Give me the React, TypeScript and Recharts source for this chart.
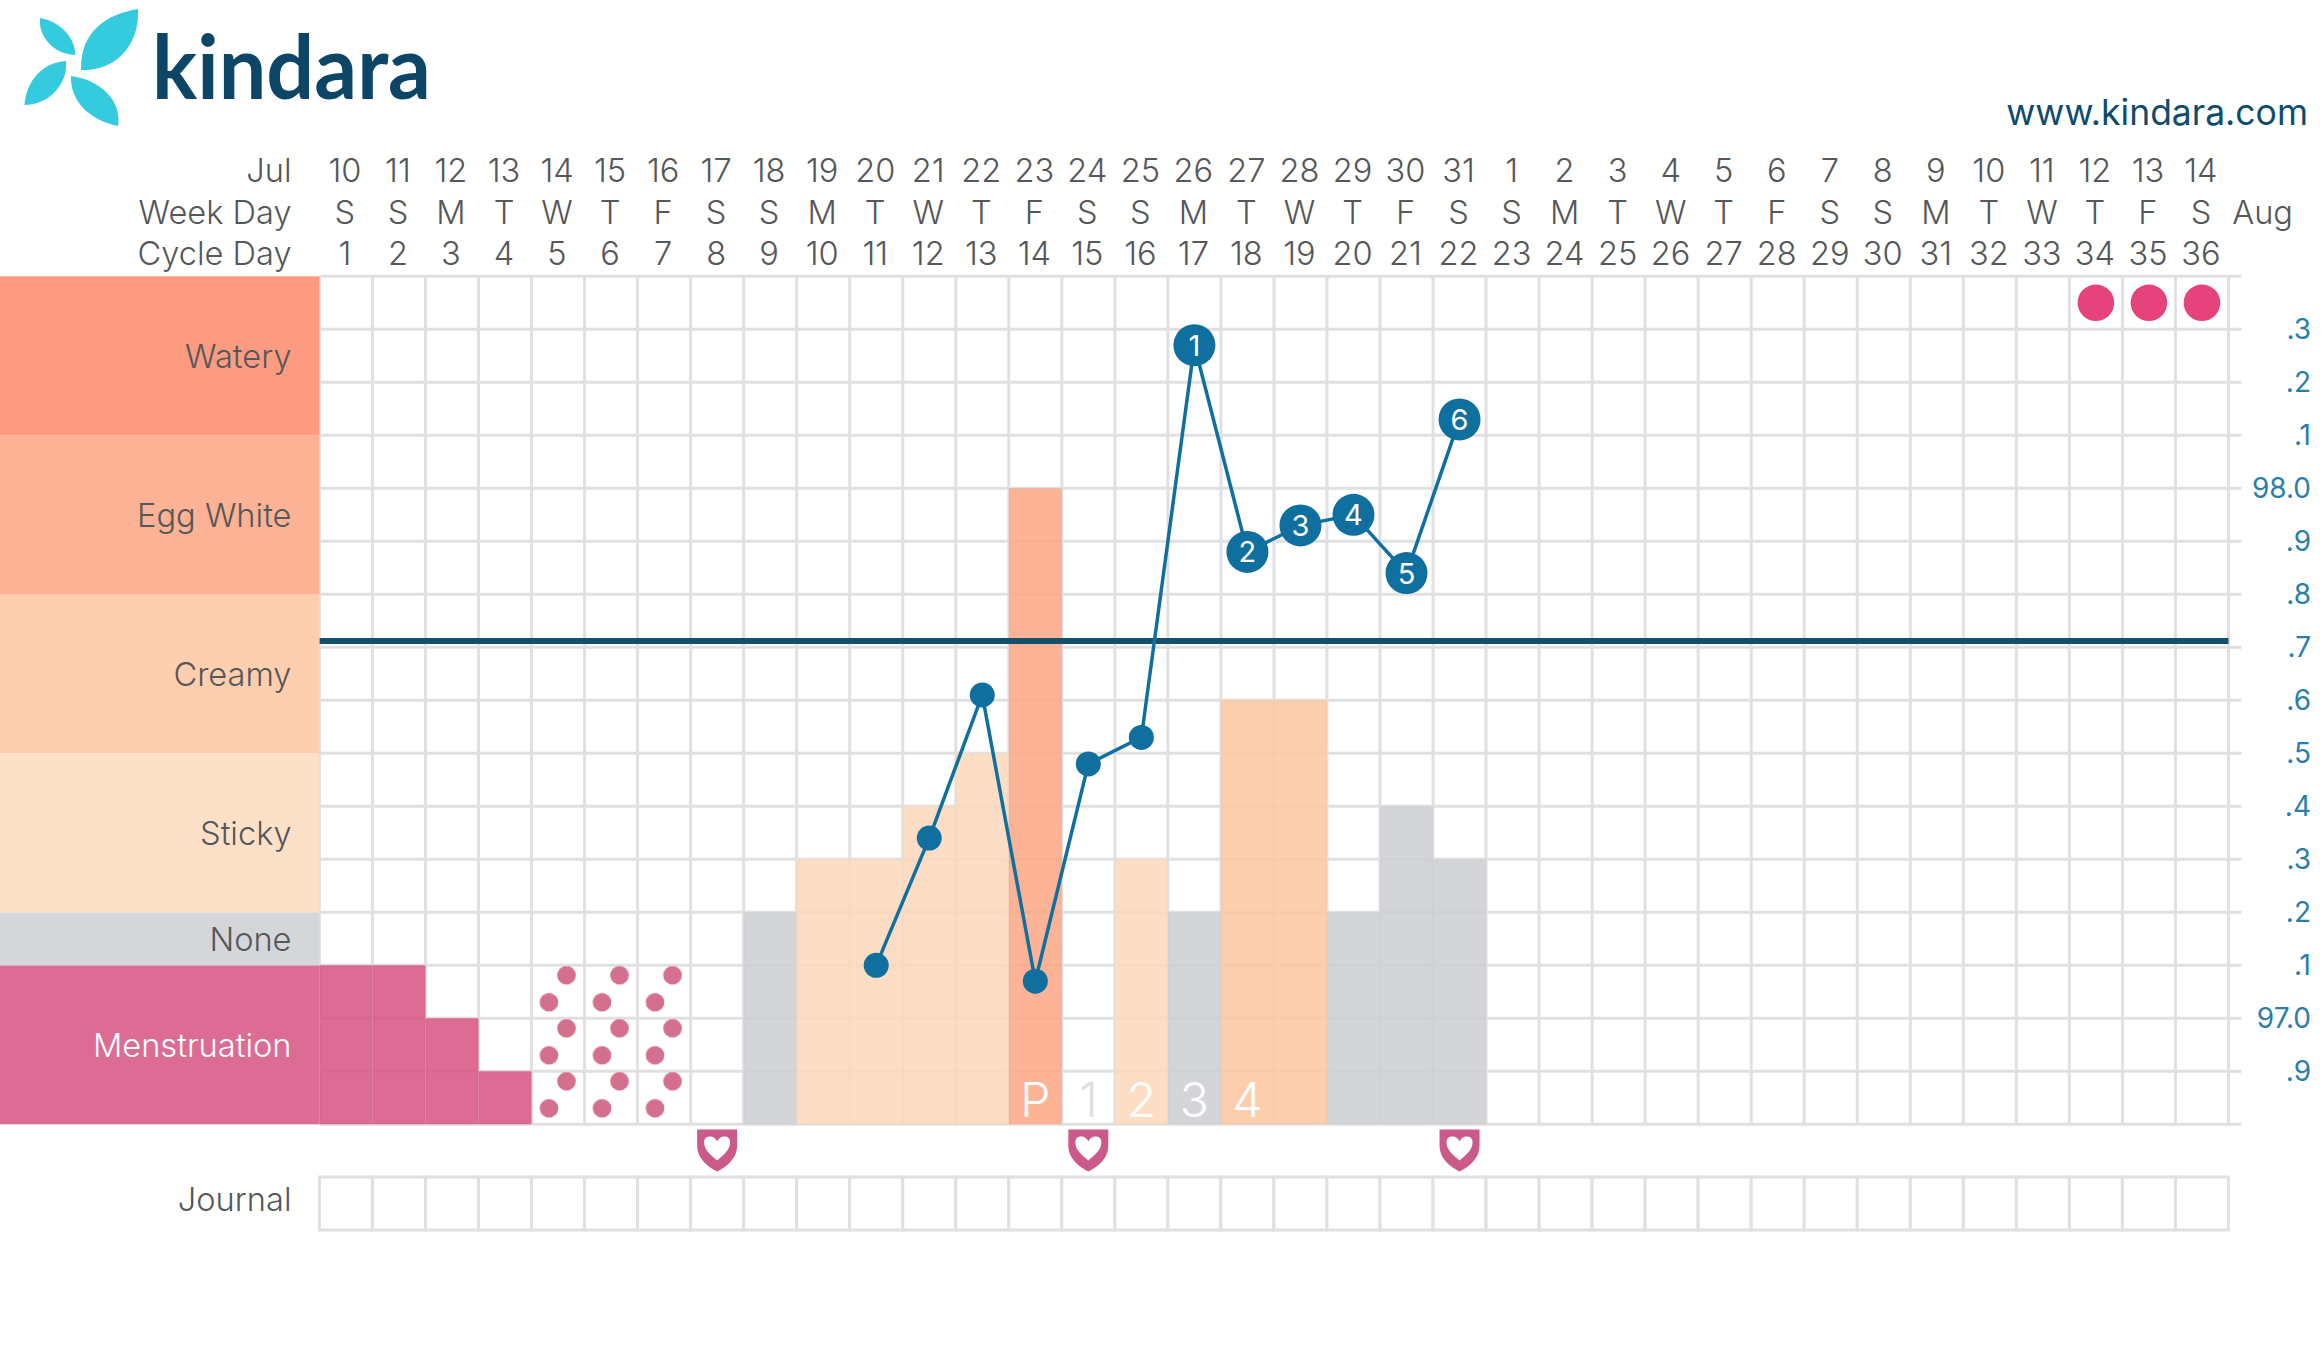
import { Bar, Cell, CartesianGrid, ComposedChart, Line, ReferenceLine, XAxis, YAxis } from "recharts";

const dates = [10,11,12,13,14,15,16,17,18,19,20,21,22,23,24,25,26,27,28,29,30,31,1,2,3,4,5,6,7,8,9,10,11,12,13,14];
const weekdays = ["S","S","M","T","W","T","F","S","S","M","T","W","T","F","S","S","M","T","W","T","F","S","S","M","T","W","T","F","S","S","M","T","W","T","F","S"];
const cycleDays = dates.map((_, i) => i + 1);

// fluid column heights in grid rows, and which kind each one is
const fluidRows = [3,3,2,1,3,3,3,null,4,5,5,6,7,12,null,5,4,8,8,4,6,5];
const fluidKinds = ["period","period","period","period","spot","spot","spot","","none","sticky","sticky","sticky","sticky","egg","","sticky","none","creamy","creamy","none","none","none"];
const temps = [null,null,null,null,null,null,null,null,null,null,97.10,97.34,97.61,97.07,97.48,97.53,98.27,97.88,97.93,97.95,97.84,98.13];
const highTempNumbers = [0,0,0,0,0,0,0,0,0,0,0,0,0,0,0,0,1,2,3,4,5,6];
const peakLabels = ["P","1","2","3","4"];
const peakStart = 13;
const intercourseDays = [7, 14, 21];
const predictedDays = [33, 34, 35];
const coverline = 97.712;

const bandNames = ["Menstruation","None","Sticky","Creamy","Egg White","Watery"];
const bandSpans = [3,1,3,3,3,3];
const bandColors = ["#dc6c94","#d5d6d9","#fde0c8","#fdcfae","#fcb294","#fd9b81"];
const tempTicks = [96.8,96.9,97.0,97.1,97.2,97.3,97.4,97.5,97.6,97.7,97.8,97.9,98.0,98.1,98.2,98.3,98.4];

const LEFT = 319.4;
const COL = 53.03;
const ROW = 53;
const RIGHT = 2324 - (LEFT + COL * 36);
const FONT = "Inter, 'Noto Sans', sans-serif";
const GREY = "#555759";
const GRID = "#e0e0e0";
const BLUE = "#0f6f9f";
const LABEL_SIZE = 32.6;

const kindFill: Record<string, string> = {
  period: "#d65281",
  none: "#cdced1",
  sticky: "#fdd8ba",
  creamy: "#fcc5a0",
  egg: "#fca684",
  spot: "url(#spotting)",
};

const data = dates.map((date, i) => ({
  date,
  weekday: weekdays[i],
  cycle: cycleDays[i],
  fluid: fluidRows[i] ?? null,
  kind: fluidKinds[i] ?? "",
  temp: temps[i] ?? null,
  num: highTempNumbers[i] ?? 0,
  peak: i >= peakStart && i < peakStart + peakLabels.length ? 0.5 : null,
  peakText: peakLabels[i - peakStart] ?? "",
  predicted: predictedDays.includes(i) ? 98.35 : null,
}));

const journalData = dates.map((_, i) => ({
  idx: i,
  cell: 1,
  heart: intercourseDays.includes(i) ? 1.5 : null,
}));

let acc = 0;
const bandCenters = bandSpans.map((s) => {
  const c = acc + s / 2;
  acc += s;
  return c;
});

function HeaderTick({ x, y, payload }: any) {
  return (
    <text x={x - 1} y={y - 9} textAnchor="middle" fontFamily={FONT} fontWeight={300} fontSize={LABEL_SIZE} fill={GREY}>
      {payload.value}
    </text>
  );
}

function BandTick({ x, y, index }: any) {
  const h = bandSpans[index] * ROW;
  return (
    <g>
      <rect x={0} y={y - h / 2} width={x} height={h} fill={bandColors[index]} />
      <text x={291.5} y={y} dy="0.36em" textAnchor="end" fontFamily={FONT} fontWeight={300} fontSize={LABEL_SIZE} fill={index === 0 ? "#fff" : GREY}>
        {bandNames[index]}
      </text>
    </g>
  );
}

function TempTick({ y, payload }: any) {
  const v = payload.value as number;
  const s = v.toFixed(1);
  if (v === 96.8 || v === 98.4) return <g />;
  const label = s.endsWith(".0") ? s : s.slice(s.indexOf("."));
  return (
    <text x={2311} y={y} dy="0.36em" textAnchor="end" fontFamily={FONT} fontSize={28} fill="#2a7fa8">
      {label}
    </text>
  );
}

function TempDot({ cx, cy, payload }: any) {
  if (payload.temp == null) return <g />;
  if (!payload.num) return <circle cx={cx} cy={cy} r={12.5} fill={BLUE} />;
  return (
    <g>
      <circle cx={cx} cy={cy} r={21} fill={BLUE} />
      <text x={cx} y={cy} dy="0.36em" textAnchor="middle" fontFamily={FONT} fontSize={29} fill="#fff">
        {payload.num}
      </text>
    </g>
  );
}

function PeakDot({ cx, cy, payload }: any) {
  if (payload.peak == null) return <g />;
  const color = payload.peakText === "1" ? "#e0e0e0" : "#fff";
  return (
    <text x={cx} y={cy + 2} dy="0.36em" textAnchor="middle" fontFamily={FONT} fontWeight={300} fontSize={48} fill={color}>
      {payload.peakText}
    </text>
  );
}

function PredictedDot({ cx, cy, payload }: any) {
  if (payload.predicted == null) return <g />;
  return <circle cx={cx} cy={cy} r={18.3} fill="#e6437d" />;
}

function HeartDot({ cx, cy, payload }: any) {
  if (payload.heart == null) return <g />;
  return (
    <g transform={`translate(${cx},${cy - 21})`}>
      <path d="M-20 0H20V16C20 30 8 38 0 42C-8 38-20 30-20 16Z" fill="#cb5a8b" />
      <path d="M0 31C-7 25-13 20-13 13C-13 8-10 7-7 7C-4 7-1 9 0 12C1 9 4 7 7 7C10 7 13 8 13 13C13 20 7 25 0 31Z" fill="#fff" />
    </g>
  );
}

function Caption({ text, y, right = 291.5 }: { text: string; y: number; right?: number }) {
  return (
    <span style={{ position: "absolute", right: 2324 - right, top: y, transform: "translateY(-50%)", fontSize: LABEL_SIZE, fontWeight: 300, color: GREY, whiteSpace: "nowrap", lineHeight: 1.2 }}>
      {text}
    </span>
  );
}

function Logo() {
  return (
    <svg width={450} height={140} style={{ position: "absolute", left: 0, top: 0 }}>
      <g fill="#35cbdf">
        <path d="M138 9C108 14 80 30 81 70C110 72 140 50 138 9Z" />
        <path d="M40 18C38 35 52 54 75 55C76 40 62 22 40 18Z" />
        <path d="M24.5 105C26 80 44 62 66 61C68 85 48 105 24.5 105Z" />
        <path d="M118 126C88 120 70 100 71 76C100 80 122 100 118 126Z" />
      </g>
      <text x={152} y={99} fontFamily="Lato, sans-serif" fontWeight={700} fontSize={88} fill="#0c4566" textLength={279} lengthAdjust="spacingAndGlyphs">
        kindara
      </text>
    </svg>
  );
}

export default function App() {
  return (
    <div style={{ position: "absolute", left: 0, top: 0, width: 2324, height: 1368, background: "#fff", fontFamily: FONT, overflow: "hidden" }}>
      <Logo />
      <span style={{ position: "absolute", right: 16, top: 93, fontSize: 35.5, color: "#0f4c6b", lineHeight: 1.1 }}>www.kindara.com</span>
      <Caption text="Jul" y={171} />
      <Caption text="Week Day" y={212.5} />
      <Caption text="Cycle Day" y={254} />
      <Caption text="Aug" y={212.5} right={2293} />
      <Caption text="Journal" y={1200} />

      <div style={{ position: "absolute", left: 0, top: 0 }}>
        <ComposedChart
          width={2324}
          height={1140}
          data={data}
          barCategoryGap={0}
          barGap={0}
          margin={{ top: 151.8, right: 0, bottom: 15.7, left: 0 }}
        >
          <defs>
            <pattern id="spotting" patternUnits="userSpaceOnUse" x={LEFT} y={966.3} width={COL} height={ROW}>
              <circle cx={35} cy={9} r={9.3} fill="#d4708e" />
              <circle cx={17.5} cy={36} r={9.3} fill="#d4708e" />
            </pattern>
          </defs>
          {/* top axes stack by id: a sits next to the plot */}
          <XAxis xAxisId="c_date" dataKey="date" orientation="top" height={41.5} interval={0} axisLine={false} tickLine={false} tickSize={0} tick={<HeaderTick />} />
          <XAxis xAxisId="b_weekday" dataKey="weekday" orientation="top" height={41.5} interval={0} axisLine={false} tickLine={false} tickSize={0} tick={<HeaderTick />} />
          <XAxis xAxisId="a_cycle" dataKey="cycle" orientation="top" height={41.5} interval={0} axisLine={false} tickLine={false} tickSize={0} tick={<HeaderTick />} />
          <YAxis yAxisId="rows" orientation="left" width={LEFT} domain={[0, 16]} ticks={bandCenters} interval={0} axisLine={false} tickLine={false} tickSize={0} tickMargin={0} tick={<BandTick />} />
          <YAxis
            yAxisId="temp"
            orientation="right"
            width={RIGHT}
            domain={[96.8, 98.4]}
            ticks={tempTicks}
            interval={0}
            axisLine={false}
            tickSize={13}
            tickLine={{ stroke: GRID, strokeWidth: 3 }}
            tick={<TempTick />}
          />
          <CartesianGrid
            xAxisId="c_date"
            yAxisId="temp"
            stroke={GRID}
            strokeWidth={3}
            verticalPoints={dates.map((_, i) => LEFT + i * COL).concat(LEFT + 36 * COL)}
          />
          <Bar xAxisId="c_date" yAxisId="rows" dataKey="fluid" fillOpacity={0.85} isAnimationActive={false}>
            {data.map((d, i) => (
              <Cell key={i} fill={kindFill[d.kind] ?? "none"} fillOpacity={d.kind === "spot" ? 1 : 0.85} />
            ))}
          </Bar>
          <ReferenceLine xAxisId="c_date" yAxisId="temp" y={coverline} stroke="#14506e" strokeWidth={6} />
          <Line xAxisId="c_date" yAxisId="rows" dataKey="peak" stroke="none" dot={<PeakDot />} activeDot={false} isAnimationActive={false} />
          <Line xAxisId="c_date" yAxisId="temp" dataKey="predicted" stroke="none" dot={<PredictedDot />} activeDot={false} isAnimationActive={false} />
          <Line xAxisId="c_date" yAxisId="temp" dataKey="temp" stroke={BLUE} strokeWidth={3.5} dot={<TempDot />} activeDot={false} isAnimationActive={false} />
        </ComposedChart>
      </div>

      <div style={{ position: "absolute", left: 0, top: 1124.3 }}>
        <ComposedChart
          width={2324}
          height={110}
          data={journalData}
          barCategoryGap={0}
          barGap={0}
          margin={{ top: 0, right: RIGHT, bottom: 4, left: LEFT }}
        >
          <XAxis dataKey="idx" hide />
          <YAxis domain={[0, 2]} hide />
          <Bar dataKey="cell" fill="#fff" stroke={GRID} strokeWidth={3} isAnimationActive={false} />
          <Line dataKey="heart" stroke="none" dot={<HeartDot />} activeDot={false} isAnimationActive={false} />
        </ComposedChart>
      </div>
    </div>
  );
}
